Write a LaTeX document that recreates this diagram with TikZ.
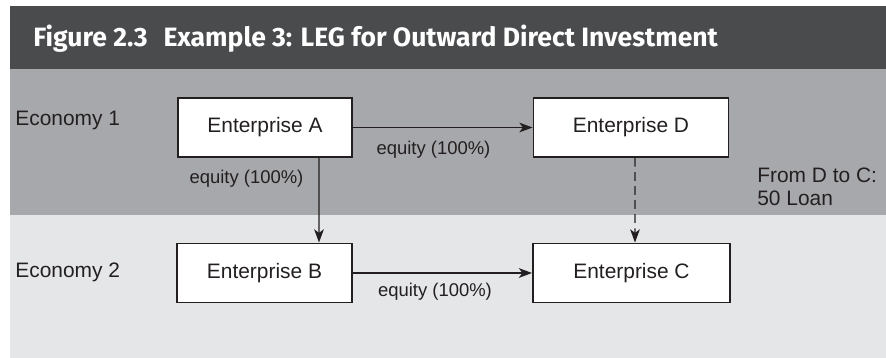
\documentclass[tikz,border=0pt]{standalone}
\usepackage{fontspec}
\setmainfont{Liberation Sans}
\newfontfamily\titlefont{Fira Sans}
\usepackage{xcolor}
\usepackage{tikz}
\usetikzlibrary {arrows.meta,positioning}

\definecolor{titlegray}{HTML}{4A4B4D}
\definecolor{midgray}{HTML}{A7A8AB}
\definecolor{palegray}{HTML}{E5E6E8}
\definecolor{inkgray}{HTML}{231F20}

\tikzset{
  firm/.style={draw=inkgray, line width=1.1pt, fill=white, text=inkgray,
    minimum width=3.48cm, minimum height=1.18cm, inner sep=0pt,
    font=\fontsize{11.9}{14}\selectfont},
  share/.style={text=inkgray, font=\fontsize{10.5}{12.6}\selectfont, inner sep=0pt},
  econ/.style={text=inkgray, font=\fontsize{11.9}{14}\selectfont, inner sep=0pt, anchor=west},
  link/.style={draw=inkgray, line width=0.75pt, -{Stealth[length=7.5pt,width=5.5pt,inset=2pt]}}
}

\begin{document}
\begin{tikzpicture}
\useasboundingbox (0,0) rectangle (17.72,7.16);
\fill [white] (0,0) rectangle (17.72,7.16);

\fill [titlegray] (0.2,5.78) rectangle (17.72,7.04);
\fill [midgray]   (0.2,2.86) rectangle (17.72,5.78);
\fill [palegray]  (0.2,0)    rectangle (17.72,2.86);

\node (title) at (0.66,6.22) [anchor=base west, text=white, inner sep=0pt,
  font=\titlefont\bfseries\fontsize{15.1}{18}\selectfont]
  {Figure 2.3\hspace{0.6em}Example 3: LEG for Outward Direct Investment};

\node (eco1) at (0.30,4.76) [econ] {Economy 1};
\node (eco2) at (0.30,1.72) [econ] {Economy 2};

\node (entA) at (5.30,4.61) [firm] {Enterprise A};
\node (entD) at (12.62,4.61) [firm, minimum width=3.90cm] {Enterprise D};
\node (entB) at (5.29,1.70) [firm, minimum width=3.50cm] {Enterprise B};
\node (entC) at (12.63,1.70) [firm, minimum width=3.94cm] {Enterprise C};

\draw [link] (entA.east) -- (entD.west);
\draw [link] ([xshift=1.08cm]entA.south) -- ([xshift=1.09cm]entB.north);
\draw [link] (entB.east) -- (entC.west);
\draw [link, dashed, dash pattern=on 5pt off 3pt] ([xshift=0.08cm]entD.south) -- ([xshift=0.07cm]entC.north);

\node (shareAD) at (8.67,4.16) [share] {equity (100\%)};
\node (shareAB) at (4.93,3.58) [share] {equity (100\%)};
\node (shareBC) at (8.70,1.32) [share] {equity (100\%)};

\node (loan) at (15.14,3.43) [econ, align=left, font=\fontsize{11.9}{13.1}\selectfont]
  {From D to C:\\50 Loan};
\end{tikzpicture}
\end{document}
